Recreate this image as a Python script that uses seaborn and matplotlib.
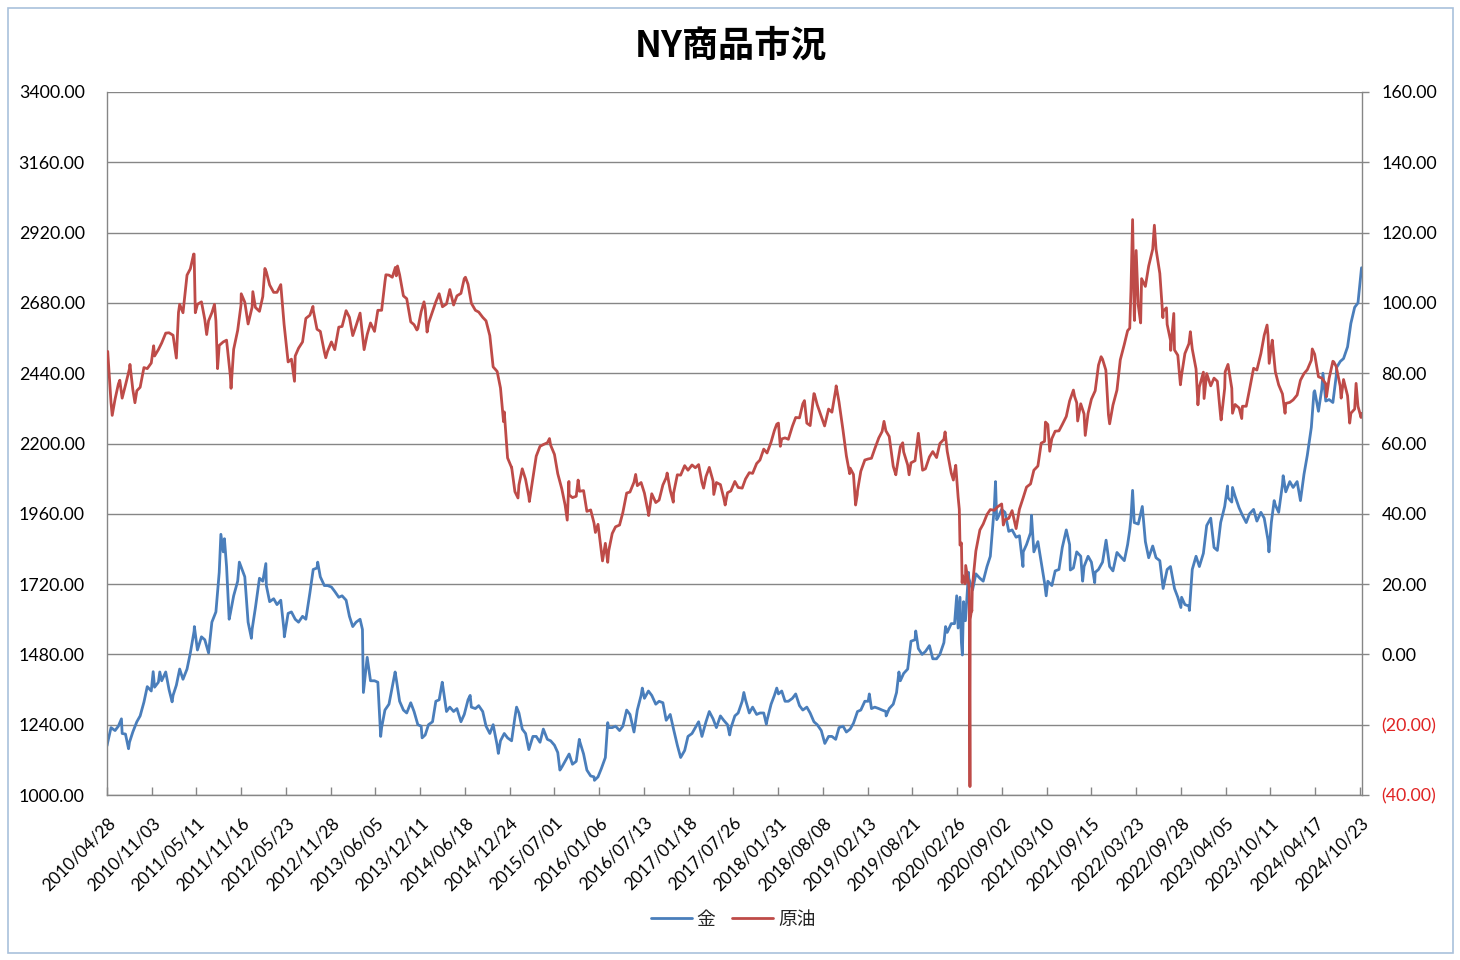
import numpy as np
import pandas as pd
import matplotlib
matplotlib.use("Agg")
import matplotlib.pyplot as plt
import seaborn as sns
from matplotlib.lines import Line2D
from matplotlib.patches import Rectangle
from matplotlib.transforms import ScaledTranslation

# ---------------- data ----------------
# semi-monthly readings (1st and 15th of each month); 2010 starts in May, 2024 ends mid-Oct
gold_2010 = [1180,1230, 1220,1235, 1210,1208, 1180,1215, 1250,1270, 1317,1370, 1355,1368, 1385,1390]
gold_2011 = [1420,1360, 1340,1375, 1430,1395, 1430,1485, 1560,1495, 1540,1530, 1485,1590, 1625,1760, 1830,1780, 1620,1680, 1730,1780, 1745,1590]
gold_2012 = [1566,1640, 1740,1730, 1715,1660, 1670,1650, 1665,1560, 1620,1625, 1600,1590, 1610,1600, 1690,1770, 1775,1745, 1715,1715, 1710,1695]
gold_2013 = [1675,1680, 1665,1610, 1575,1590, 1600,1350, 1470,1390, 1390,1385, 1230,1290, 1310,1370, 1395,1320, 1290,1280, 1315,1285, 1240,1235]
gold_2014 = [1205,1240, 1250,1320, 1325,1380, 1285,1300, 1285,1295, 1250,1275, 1325,1300, 1295,1305, 1285,1235, 1210,1240, 1170,1185, 1210,1195]
gold_2015 = [1185,1265, 1280,1225, 1210,1155, 1200,1200, 1180,1225, 1190,1185, 1170,1145, 1095,1115, 1140,1105, 1115,1185, 1140,1085, 1065,1062]
gold_2016 = [1062,1090, 1128,1230, 1230,1235, 1220,1235, 1290,1275, 1215,1290, 1340,1330, 1355,1340, 1310,1320, 1315,1255, 1275,1225, 1170,1135]
gold_2017 = [1152,1200, 1210,1230, 1250,1200, 1250,1285, 1260,1230, 1270,1255, 1240,1228, 1270,1280, 1320,1325, 1280,1300, 1275,1280, 1280,1255]
gold_2018 = [1310,1340, 1345,1355, 1320,1320, 1330,1345, 1305,1290, 1300,1280, 1250,1240, 1220,1180, 1200,1200, 1190,1230, 1235,1215, 1225,1245]
gold_2019 = [1285,1290, 1320,1320, 1295,1300, 1295,1290, 1285,1295, 1310,1350, 1390,1415, 1430,1525, 1530,1500, 1480,1490, 1510,1465, 1465,1480]
gold_2020 = [1520,1555, 1585,1585, 1570,1520, 1595,1740, 1700,1755, 1740,1730, 1780,1815, 1985,1945, 1975,1965, 1900,1905, 1880,1885, 1830,1855]
gold_2021 = [1895,1830, 1865,1795, 1725,1730, 1715,1765, 1770,1845, 1905,1855, 1775,1830, 1815,1780, 1815,1795, 1760,1770, 1795,1865, 1780,1765]
gold_2022 = [1828,1815, 1800,1855, 1945,1930, 1925,1975, 1865,1810, 1850,1810, 1800,1705, 1770,1780, 1705,1675, 1675,1650, 1645,1770, 1815,1780]
gold_2023 = [1825,1920, 1945,1845, 1835,1930, 1985,2015, 2000,2020, 1980,1955, 1930,1960, 1975,1935, 1965,1945, 1870,1930, 1990,1965, 2060,2035]
gold_2024 = [2070,2050, 2070,2005, 2095,2160, 2255,2380, 2310,2385, 2345,2350, 2340,2430, 2480,2490, 2530,2610, 2665,2680]

# extra readings at turning points
gold_extra_dates = ['2010-04-28','2010-06-28','2010-07-28','2010-11-09','2010-12-07','2011-01-28','2011-05-02',
    '2011-08-22','2011-09-06','2011-09-26','2011-11-08','2011-12-29','2012-02-28','2012-05-16','2012-10-04',
    '2013-04-11','2013-06-27','2013-08-27','2013-12-19','2014-03-14','2014-07-10','2014-11-06','2015-01-22',
    '2015-07-24','2015-10-14','2015-12-17','2016-02-11','2016-07-06','2016-12-15','2017-07-10','2017-09-08',
    '2017-12-12','2018-01-25','2018-08-16','2019-02-20','2019-05-02','2019-06-25','2019-09-04','2020-01-08',
    '2020-02-24','2020-03-09','2020-03-19','2020-03-24','2020-04-14','2020-08-06','2020-08-11','2020-11-30',
    '2021-01-05','2021-03-08','2021-06-18','2021-08-09','2021-09-29','2021-11-16','2022-02-24','2022-03-08',
    '2022-04-18','2022-09-28','2022-11-03','2023-04-13','2023-05-04','2023-10-05','2023-10-27','2023-12-04',
    '2024-04-12','2024-05-20','2024-07-17','2024-10-30']
gold_extra_values = [1168,1260,1158,1421,1420,1318,1575,1890,1875,1600,1795,1535,1790,1540,1795,1565,1200,1420,
    1195,1385,1340,1142,1300,1085,1190,1050,1247,1365,1128,1205,1350,1242,1365,1176,1345,1270,1420,1560,1575,
    1680,1675,1478,1660,1760,2070,1940,1780,1955,1680,1768,1730,1725,1870,1905,2040,1985,1640,1630,2055,2050,
    1830,2005,2090,2375,2440,2460,2800]

oil_2010 = [86.2,71.6, 72.6,76.9, 72.9,76.6, 81.3,75.4, 75.0,76.0, 81.6,81.3, 82.9,84.9, 86.7,88.6]
oil_2011 = [91.4,91.5, 90.8,84.3, 99.6,97.2, 107.9,109.7, 113.9,99.6, 100.3,95.3, 94.9,97.2, 94.9,87.9, 88.9,89.4, 79.2,86.8, 92.2,99.4, 100.2,94.0]
oil_2012 = [98.8,98.7, 97.6,101.8, 108.8,105.1, 103.0,103.0, 105.2,93.9, 83.2,84.0, 84.9,87.1, 88.9,95.6, 96.5,98.0, 92.5,91.9, 86.1,86.3, 88.9,86.7]
oil_2013 = [93.1,93.3, 97.8,95.9, 90.7,93.5, 97.1,88.7, 91.0,94.3, 91.9,97.9, 97.9,106.0, 107.9,107.3, 107.7,108.0, 102.0,101.2, 94.6,93.8, 92.7,97.5]
oil_2014 = [98.4,94.2, 97.5,100.3, 102.6,98.9, 99.7,103.8, 99.4,102.0, 102.7,106.9, 105.3,99.9, 97.9,97.4, 95.9,94.9, 90.7,81.8, 80.5,75.8, 69.0,55.9]
oil_2015 = [53.3,46.3, 48.2,52.8, 49.8,44.8, 50.1,56.4, 59.2,59.7, 60.2,59.5, 56.9,51.4, 47.1,42.5, 45.4,44.6, 45.0,46.4, 46.6,40.7, 41.1,37.4]
oil_2016 = [37.0,29.4, 31.6,29.4, 34.4,36.3, 36.8,40.4, 45.9,46.2, 49.0,48.0, 48.9,45.9, 40.1,45.7, 43.2,43.9, 48.2,50.3, 46.7,45.8, 51.1,51.0]
oil_2017 = [53.7,52.4, 53.9,53.1, 54.0,48.9, 50.6,53.2, 49.3,48.9, 48.3,44.5, 46.0,46.5, 49.2,47.5, 47.3,49.9, 51.7,51.5, 54.3,55.3, 58.4,57.3]
oil_2018 = [60.4,63.7, 65.8,61.3, 61.6,61.2, 64.9,67.4, 67.3,71.3, 65.8,65.1, 74.2,71.0, 67.7,65.0, 69.8,68.9, 75.3,71.8, 63.7,56.5, 53.0,51.2]
oil_2019 = [46.5,52.1, 55.3,55.6, 55.8,58.5, 61.6,63.4, 63.6,62.0, 53.5,52.5, 59.1,57.6, 53.9,54.5, 55.1,62.9, 53.6,52.8, 56.2,57.7, 56.0,60.0]
oil_2020 = [61.2,57.8, 51.6,52.0, 44.8,31.7, 20.3,19.9, 19.8,29.4, 35.4,37.1, 39.8,41.2, 41.0,42.0, 42.8,38.3, 38.7,40.9, 35.8,41.3, 44.6,47.6]
oil_2021 = [48.5,52.4, 53.6,60.1, 60.6,65.4, 61.4,63.5, 63.6,65.4, 67.7,72.1, 75.2,71.6, 71.3,68.4, 68.6,72.6, 75.0,82.3, 84.0,80.9, 65.6,70.9]
oil_2022 = [75.2,83.8, 88.2,92.1, 103.4,96.4, 99.3,106.9, 104.7,110.5, 115.3,115.3, 108.4,97.6, 93.9,89.4, 86.6,85.1, 79.5,85.6, 88.4,86.9, 81.2,76.1]
oil_2023 = [80.3,79.9, 76.4,78.6, 77.7,67.6, 75.7,82.5, 75.7,71.1, 70.1,70.6, 70.6,75.4, 81.4,80.9, 85.6,90.8, 90.8,87.7, 80.4,76.7, 74.1,71.4]
oil_2024 = [71.7,72.4, 73.8,78.0, 79.9,81.0, 83.7,85.4, 79.0,78.6, 77.0,78.5, 83.4,81.9, 76.3,78.2, 73.6,68.6, 69.8,70.6]

oil_extra_dates = ['2010-04-28','2010-05-20','2010-06-21','2010-08-03','2010-08-24','2010-11-11',
    '2011-02-24','2011-04-29','2011-05-06','2011-06-23','2011-07-26','2011-08-08','2011-10-04','2011-11-16',
    '2012-01-04','2012-02-24','2012-06-28','2012-09-14','2012-11-07',
    '2013-04-18','2013-07-19','2013-08-28','2013-09-06','2013-11-27','2013-12-27',
    '2014-01-09','2014-06-20','2014-11-28','2014-12-31',
    '2015-01-28','2015-03-17','2015-06-10','2015-08-24','2015-08-31','2015-10-09','2015-12-21',
    '2016-01-20','2016-02-11','2016-06-08','2016-08-02','2016-10-19','2016-11-14',
    '2017-03-22','2017-05-04','2017-06-21',
    '2018-01-25','2018-02-09','2018-05-22','2018-07-03','2018-10-03','2018-11-29','2018-12-24','2018-12-31',
    '2019-04-23','2019-06-12','2019-07-11','2019-08-07','2019-10-03',
    '2020-01-06','2020-02-10','2020-02-20','2020-03-06','2020-03-09','2020-03-18','2020-03-20','2020-03-30',
    '2020-04-02','2020-04-17','2020-04-20','2020-04-21','2020-04-27','2020-04-28','2020-04-30','2020-09-08',
    '2021-03-05','2021-03-23','2021-07-06','2021-07-19','2021-08-20','2021-10-26','2021-11-26',
    '2022-02-24','2022-03-08','2022-03-16','2022-03-23','2022-04-11','2022-06-08','2022-07-14','2022-07-29',
    '2022-08-16','2022-08-29','2022-09-26','2022-11-07','2022-12-09',
    '2023-01-04','2023-03-17','2023-04-03','2023-05-04','2023-06-12','2023-09-27','2023-10-06','2023-10-19','2023-12-12',
    '2024-04-05','2024-06-04','2024-07-05','2024-08-05','2024-09-10','2024-10-07','2024-10-28','2024-10-30']
oil_extra_values = [86.0,68.0,78.0,82.5,71.6,87.8,
    97.3,113.9,97.2,91.0,99.6,81.3,75.7,102.6,
    103.2,109.8,77.7,99.0,84.4,
    86.7,108.0,110.1,110.5,92.3,100.3,
    91.7,107.3,66.2,53.3,
    44.5,43.5,61.4,38.2,49.2,49.6,34.7,
    26.6,26.2,51.2,39.5,51.6,43.3,
    47.3,45.5,42.5,
    65.5,59.2,72.2,74.1,76.4,51.4,42.5,45.4,
    66.3,51.1,60.2,51.1,52.4,
    63.3,49.6,53.8,41.3,31.1,20.4,22.4,20.1,25.3,18.3,-37.6,10.0,12.8,12.3,18.8,36.8,
    66.1,57.8,73.4,66.4,62.3,84.7,68.2,
    92.8,123.7,95.0,114.9,94.3,122.1,95.8,98.6,86.5,97.0,76.7,91.8,71.0,
    72.8,66.7,80.4,68.6,67.1,93.7,82.8,89.4,68.6,
    86.9,73.3,83.2,72.9,65.8,77.1,67.4,68.6]

x_tick_labels = ['2010/04/28','2010/11/03','2011/05/11','2011/11/16','2012/05/23','2012/11/28','2013/06/05',
    '2013/12/11','2014/06/18','2014/12/24','2015/07/01','2016/01/06','2016/07/13','2017/01/18','2017/07/26',
    '2018/01/31','2018/08/08','2019/02/13','2019/08/21','2020/02/26','2020/09/02','2021/03/10','2021/09/15',
    '2022/03/23','2022/09/28','2023/04/05','2023/10/11','2024/04/17','2024/10/23']
gold_ticks = [1000, 1240, 1480, 1720, 1960, 2200, 2440, 2680, 2920, 3160, 3400]
oil_ticks = [-40, -20, 0, 20, 40, 60, 80, 100, 120, 140, 160]
series_names = ['金', '原油']
title_text = 'NY商品市況'

# ---------------- build frames ----------------
def build(year_lists, extra_dates, extra_values):
    rows = []
    for year, vals in year_lists.items():
        start_month = 5 if year == 2010 else 1
        for i, v in enumerate(vals):
            rows.append((pd.Timestamp(year, start_month + i // 2, 1 if i % 2 == 0 else 15), v))
    for d, v in zip(extra_dates, extra_values):
        rows.append((pd.Timestamp(d), v))
    df = pd.DataFrame(rows, columns=['date', 'value'])
    df = df.drop_duplicates('date', keep='last').sort_values('date').reset_index(drop=True)
    return df

gold_df = build({2010: gold_2010, 2011: gold_2011, 2012: gold_2012, 2013: gold_2013, 2014: gold_2014,
                 2015: gold_2015, 2016: gold_2016, 2017: gold_2017, 2018: gold_2018, 2019: gold_2019,
                 2020: gold_2020, 2021: gold_2021, 2022: gold_2022, 2023: gold_2023, 2024: gold_2024},
                gold_extra_dates, gold_extra_values)
oil_df = build({2010: oil_2010, 2011: oil_2011, 2012: oil_2012, 2013: oil_2013, 2014: oil_2014,
                2015: oil_2015, 2016: oil_2016, 2017: oil_2017, 2018: oil_2018, 2019: oil_2019,
                2020: oil_2020, 2021: oil_2021, 2022: oil_2022, 2023: oil_2023, 2024: oil_2024},
               oil_extra_dates, oil_extra_values)

# ---------------- style ----------------
sns.set_theme(style='white')
plt.rcParams['font.family'] = ['Lato', 'Noto Sans CJK JP', 'DejaVu Sans']

BLUE = '#4a7ebb'
RED = '#be4b48'
GRID = '#868686'
NEG = '#e02424'

W, H = 1460, 960
fig = plt.figure(figsize=(W / 100, H / 100), dpi=100)
fig.patch.set_facecolor('white')
ax = fig.add_axes([107 / W, 1 - 795 / H, (1362 - 107) / W, (795 - 92) / H])
ax2 = ax.twinx()

sns.lineplot(data=gold_df, x='date', y='value', ax=ax, color=BLUE, linewidth=2.0,
             estimator=None, sort=True)
sns.lineplot(data=oil_df, x='date', y='value', ax=ax2, color=RED, linewidth=2.0,
             estimator=None, sort=True)

ax.set_xlabel('')
ax.set_ylabel('')
ax2.set_ylabel('')

ax.set_xlim(pd.Timestamp('2010-04-28'), pd.Timestamp('2024-11-01'))
ax.set_ylim(gold_ticks[0], gold_ticks[-1])
ax2.set_ylim(oil_ticks[0], oil_ticks[-1])

ax.set_yticks(gold_ticks)
ax.set_yticklabels([f'{v:.2f}' for v in gold_ticks])
ax2.set_yticks(oil_ticks)
ax2.set_yticklabels([f'({abs(v):.2f})' if v < 0 else f'{v:.2f}' for v in oil_ticks])
for lbl, v in zip(ax2.get_yticklabels(), oil_ticks):
    lbl.set_color(NEG if v < 0 else 'black')

xt = pd.to_datetime(x_tick_labels, format='%Y/%m/%d')
ax.set_xticks(xt)
ax.set_xticklabels(x_tick_labels, rotation=45, ha='right', va='top', rotation_mode='anchor')
for lbl in ax.get_xticklabels():
    lbl.set_transform(lbl.get_transform() + ScaledTranslation(4 / 100, 0, fig.dpi_scale_trans))

ax.grid(axis='y', color=GRID, linewidth=1)
ax.grid(axis='x', visible=False)
ax.set_axisbelow(True)

for s in ['left', 'bottom']:
    ax.spines[s].set_color(GRID)
    ax.spines[s].set_linewidth(1)
ax.spines['top'].set_visible(False)
ax.spines['right'].set_visible(False)
for s in ['left', 'bottom', 'top']:
    ax2.spines[s].set_visible(False)
ax2.spines['right'].set_color(GRID)
ax2.spines['right'].set_linewidth(1)

ax.tick_params(axis='y', left=False, length=0, pad=16, labelsize=12.8, labelcolor='black')
ax.tick_params(axis='x', bottom=True, direction='in', length=6, width=1, color=GRID,
               pad=14, labelsize=12.4, labelcolor='black')
ax2.tick_params(axis='y', right=True, direction='out', length=5, width=1, color=GRID,
                pad=9, labelsize=12.8)

fig.text(731 / W, 1 - 46 / H, title_text, ha='center', va='center', fontsize=26,
         fontweight='bold', family=['Noto Sans CJK JP', 'DejaVu Sans'], color='black')

handles = [Line2D([0], [0], color=BLUE, lw=2), Line2D([0], [0], color=RED, lw=2)]
fig.legend(handles, series_names, loc='center', bbox_to_anchor=(733 / W, 1 - 919 / H), ncol=2,
           frameon=False, handlelength=2.2, handletextpad=0.25, columnspacing=0.9,
           prop={'family': ['Noto Sans CJK JP', 'DejaVu Sans'], 'size': 13.5})

fig.patches.append(Rectangle((8 / W, 7 / H), (1453 - 8) / W, (953 - 8) / H,
                             transform=fig.transFigure, fill=False,
                             edgecolor='#a9c1dc', linewidth=1.2))

fig.savefig('out.png', dpi=100, facecolor='white')
